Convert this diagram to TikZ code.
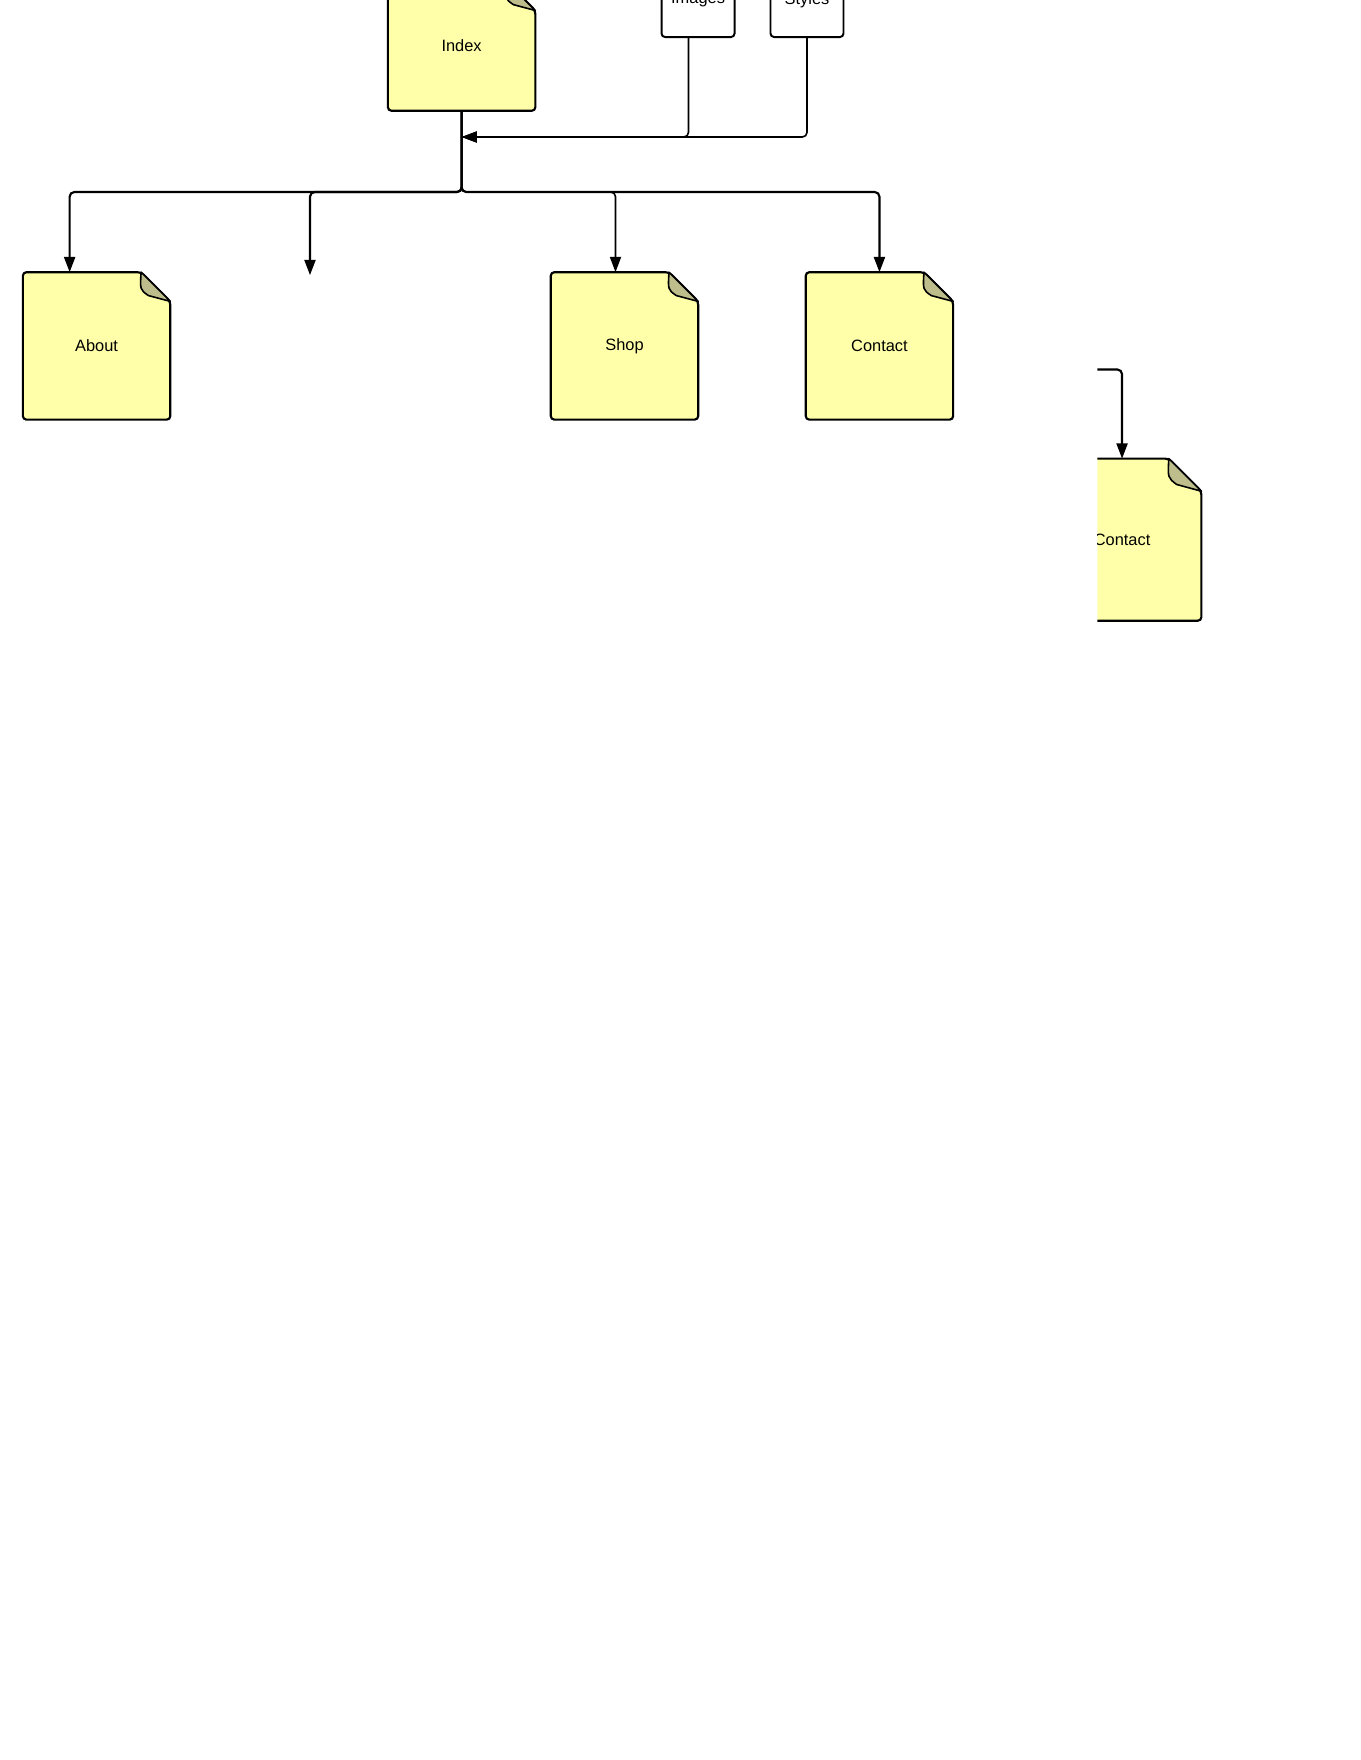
\documentclass[tikz,border=0pt]{standalone}
\usepackage{fontspec}
\setmainfont{Liberation Sans}
\usetikzlibrary{arrows.meta}
\usetikzlibrary{positioning}
\usetikzlibrary{calc, backgrounds}

\newlength\grid
\setlength\grid{0.315pt}
\definecolor{pageyellow}{RGB}{255,255,170}
\definecolor{pagefold}{RGB}{190,190,140}

\begin{document}
\begin{tikzpicture}[x=\grid,y=-\grid,>={Triangle[length=4.3pt,width=3.1pt]}]
 \tikzstyle{page node}=[rectangle,minimum width=130\grid,minimum height=130\grid,inner sep=0,font=\fontsize{4.6}{5.5}\selectfont]
 \tikzstyle{folder node}=[rectangle,draw,rounded corners=1pt,line width=0.55pt,minimum width=65\grid,minimum height=66\grid,inner sep=0,font=\fontsize{4.6}{5.5}\selectfont]
 \tikzset{
 	sheet/.style={draw=black,fill=pageyellow,line width=0.6pt,rounded corners=1pt},
 	flap/.style={draw=black,fill=pagefold,line width=0.45pt,line join=round},
 	link/.style={->,line width=0.6pt,rounded corners=1.3pt},
 	thin link/.style={->,line width=0.45pt,rounded corners=1.3pt}
 }
 \useasboundingbox (0,0) rectangle (1211,1567);

       \node[page node,minimum height=114\grid] (index) at (411,41) {Index};
       \node[folder node] (images) at (621.5,0) {Images};
       \node[folder node] (styles) at (718.5,0) {Styles};

       \node[page node] (about) at (86,308) {About};
       \node[page node] (shop) at (556,308) {Shop};
       \node[page node] (contact) at (783,308) {Contact};

       \coordinate (bus) at (0,171);
       \coordinate (merge) at (411,122);
       \coordinate (blank) at (276,245);

     \begin{scope}[on background layer]
     \foreach \n/\f in {index/26,about/26,shop/26,contact/26}{
       \filldraw[sheet] (\n.north west) -- ($(\n.north east)+(-\f,0)$) -- ($(\n.north east)+(0,\f)$) -- (\n.south east) -- (\n.south west) -- cycle;
       \filldraw[flap] ($(\n.north east)+(-\f,0)$) .. controls ($(\n.north east)+(-\f-1,0.6*\f)$) .. ($(\n.north east)+(-0.75*\f,0.8*\f)$) -- ($(\n.north east)+(0,\f)$) -- cycle;
     }
     \end{scope}

     \draw[link] (index.south) -- (index.south |- bus) -| ($(about.north)+(-24,0)$);
     \draw[link] (index.south) -- (index.south |- bus) -| (blank);
     \draw[thin link] (index.south) -- (index.south |- bus) -| ($(shop.north)+(-8,0)$);
     \draw[link] (index.south) -- (index.south |- bus) -| (contact.north);

     \draw[thin link] ($(images.south)+(-8.5,0)$) |- (merge);
     \draw[thin link] (styles.south) |- (merge);

     % second contact page, only partly shown
     \begin{scope}
       \clip (977,280) rectangle (1211,600);
       \node[page node,minimum width=140\grid,minimum height=143\grid] (contact2) at (999,480.5) {Contact};
       \coordinate (offpage) at (900,329);
       \draw[link] (offpage) -| (contact2.north);
     \end{scope}
     \begin{scope}[on background layer]
       \clip (977,280) rectangle (1211,600);
       \filldraw[sheet] (contact2.north west) -- ($(contact2.north east)+(-29,0)$) -- ($(contact2.north east)+(0,29)$) -- (contact2.south east) -- (contact2.south west) -- cycle;
       \filldraw[flap] ($(contact2.north east)+(-29,0)$) .. controls ($(contact2.north east)+(-30,17)$) .. ($(contact2.north east)+(-22,23)$) -- ($(contact2.north east)+(0,29)$) -- cycle;
     \end{scope}
\end{tikzpicture}
\end{document}
